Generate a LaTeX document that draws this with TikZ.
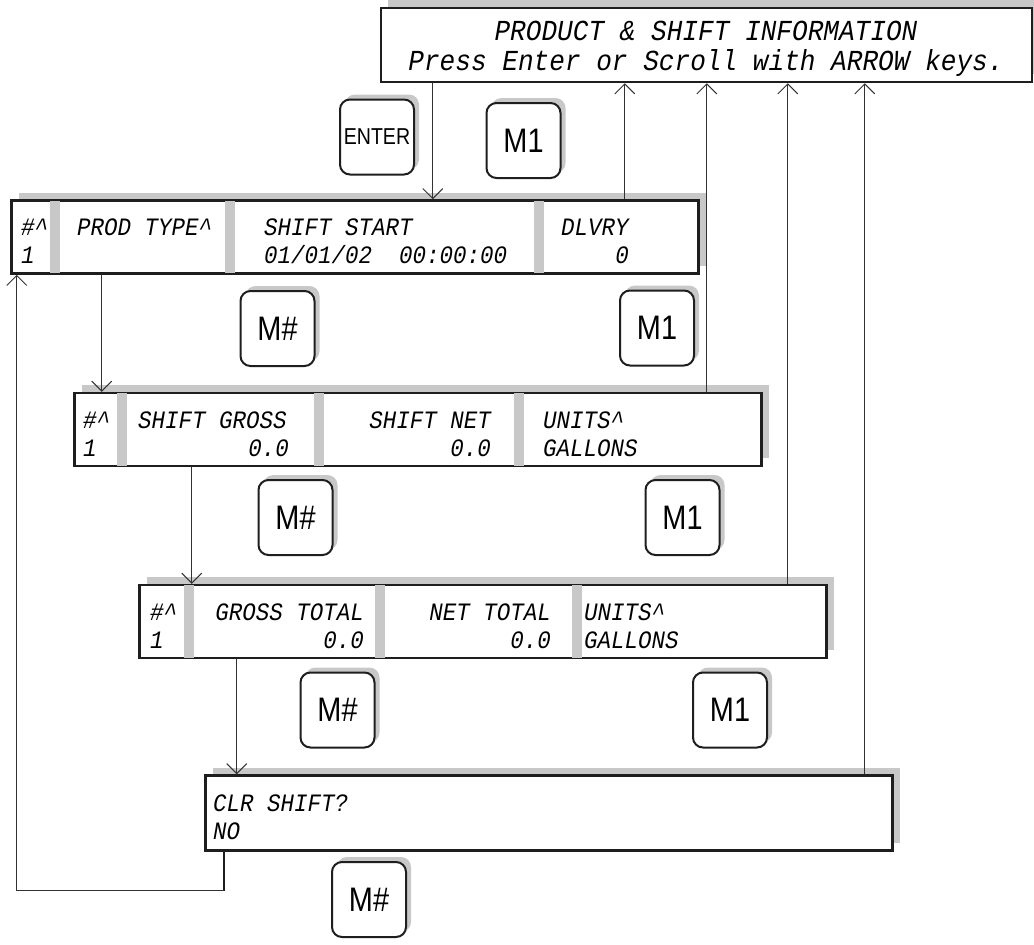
\documentclass[tikz,border=0pt]{standalone}
\usepackage{fontspec}
\usetikzlibrary{arrows.meta, shadows, calc}
\newfontfamily\lcdfont[FakeStretch=0.9]{Liberation Mono}
\newfontfamily\keyfont[FakeStretch=0.85]{Liberation Sans}
\definecolor{ShadeGray}{RGB}{200, 200, 200}
\definecolor{FrameDark}{RGB}{30, 30, 30}
\definecolor{LinkGray}{RGB}{50, 50, 50}

\begin{document}
\begin{tikzpicture}[
    x=1pt, y=-1pt,
    screen/.style={rectangle, draw=FrameDark, fill=white, line width=2.5pt, minimum width=687pt, minimum height=73pt, inner sep=0pt, general shadow={fill=ShadeGray, shadow xshift=7pt, shadow yshift=8pt}},
    key/.style={rectangle, draw=FrameDark, fill=white, line width=2pt, rounded corners=10pt, minimum width=74pt, minimum height=75pt, inner sep=0pt, font=\keyfont\fontsize{34}{34}\selectfont, general shadow={fill=ShadeGray, shadow xshift=5pt, shadow yshift=5pt}},
    lcd/.style={inner sep=0pt, anchor=base west, font=\lcdfont\itshape\fontsize{25}{25}\selectfont},
    lcdr/.style={lcd, anchor=base east},
    toplcd/.style={inner sep=0pt, anchor=base, font=\lcdfont\itshape\fontsize{29}{29}\selectfont},
    bar/.style={fill=ShadeGray},
    link/.style={draw=LinkGray, line width=1pt, -{Straight Barb[length=10pt, width=20pt]}}
]
    \useasboundingbox (0,0) rectangle (1034,945);

    % Screens
    \node[screen, minimum width=651pt, minimum height=74pt] (info) at (706.5,45) {};
    \node[screen] (prod) at (355,237) {};
    \node[screen] (gross) at (418,429.5) {};
    \node[screen] (total) at (483,621.5) {};
    \node[screen, minimum height=75pt] (clear) at (549,813) {};

    % Column separators
    \fill[bar] ([xshift=40pt, yshift=-1.5pt]prod.north west) rectangle ([xshift=50pt, yshift=1.5pt]prod.south west);
    \fill[bar] ([xshift=215pt, yshift=-1.5pt]prod.north west) rectangle ([xshift=225pt, yshift=1.5pt]prod.south west);
    \fill[bar] ([xshift=524pt, yshift=-1.5pt]prod.north west) rectangle ([xshift=534pt, yshift=1.5pt]prod.south west);
    \fill[bar] ([xshift=44pt, yshift=-1.5pt]gross.north west) rectangle ([xshift=54pt, yshift=1.5pt]gross.south west);
    \fill[bar] ([xshift=241pt, yshift=-1.5pt]gross.north west) rectangle ([xshift=251pt, yshift=1.5pt]gross.south west);
    \fill[bar] ([xshift=441pt, yshift=-1.5pt]gross.north west) rectangle ([xshift=451pt, yshift=1.5pt]gross.south west);
    \fill[bar] ([xshift=46pt, yshift=-1.5pt]total.north west) rectangle ([xshift=56pt, yshift=1.5pt]total.south west);
    \fill[bar] ([xshift=237pt, yshift=-1.5pt]total.north west) rectangle ([xshift=247pt, yshift=1.5pt]total.south west);
    \fill[bar] ([xshift=434pt, yshift=-1.5pt]total.north west) rectangle ([xshift=444pt, yshift=1.5pt]total.south west);

    % Screen texts
    \node[toplcd] (ititle) at (706,40) {PRODUCT \& SHIFT INFORMATION};
    \node[toplcd] (ihint) at (706,70) {Press Enter or Scroll with ARROW keys.};

    \node[lcd] (pnum) at (21,235) {\#\textasciicircum};
    \node[lcd] (pnumv) at (21,263) {1};
    \node[lcd] (ptype) at (77,235) {PROD TYPE\textasciicircum};
    \node[lcd] (pstart) at (264,235) {SHIFT START};
    \node[lcd] (pstartv) at (264,263) {01/01/02\ \ 00:00:00};
    \node[lcd] (pdlv) at (561,235) {DLVRY};
    \node[lcdr] (pdlvv) at (629,263) {0};

    \node[lcd] (gnum) at (83,428) {\#\textasciicircum};
    \node[lcd] (gnumv) at (83,456) {1};
    \node[lcd] (ggross) at (138,428) {SHIFT GROSS};
    \node[lcdr] (ggrossv) at (289,456) {0.0};
    \node[lcdr] (gnet) at (491,428) {SHIFT NET};
    \node[lcdr] (gnetv) at (491,456) {0.0};
    \node[lcd] (gunit) at (543,428) {UNITS\textasciicircum};
    \node[lcd] (gunitv) at (543,456) {GALLONS};

    \node[lcd] (tnum) at (150,620) {\#\textasciicircum};
    \node[lcd] (tnumv) at (150,648) {1};
    \node[lcdr] (tgross) at (364,620) {GROSS TOTAL};
    \node[lcdr] (tgrossv) at (364,648) {0.0};
    \node[lcdr] (tnet) at (551,620) {NET TOTAL};
    \node[lcdr] (tnetv) at (551,648) {0.0};
    \node[lcd] (tunit) at (584,620) {UNITS\textasciicircum};
    \node[lcd] (tunitv) at (584,648) {GALLONS};

    \node[lcd] (cclr) at (213,811) {CLR SHIFT?};
    \node[lcd] (cclrv) at (213,839) {NO};

    % Keys
    \node[key, font=\keyfont\fontsize{23}{23}\selectfont] (enter) at (377,137) {ENTER};
    \node[key] (mone) at (523.5,140.5) {M1};
    \node[key] (mnumA) at (277.5,328.5) {M\#};
    \node[key] (moneA) at (657,328) {M1};
    \node[key] (mnumB) at (295.5,517.5) {M\#};
    \node[key] (moneB) at (682.5,517.5) {M1};
    \node[key] (mnumC) at (337.5,710) {M\#};
    \node[key] (moneC) at (730,710) {M1};
    \node[key] (mnumD) at (369,899.5) {M\#};

    % Back to the information screen
    \draw[link] ([xshift=53pt]info.south west) coordinate (a0) -- (a0 |- prod.north);
    \draw[link] ([xshift=614.5pt]prod.north west) coordinate (a1) -- (a1 |- info.south);
    \draw[link] ([xshift=633.5pt]gross.north west) coordinate (a2) -- (a2 |- info.south);
    \draw[link] ([xshift=649.5pt]total.north west) coordinate (a3) -- (a3 |- info.south);
    \draw[link] ([xshift=660.5pt]clear.north west) coordinate (a4) -- (a4 |- info.south);

    % Down the screens
    \draw[link] ([xshift=91.5pt]prod.south west) coordinate (d1) -- (d1 |- gross.north);
    \draw[link] ([xshift=118.5pt]gross.south west) coordinate (d2) -- (d2 |- total.north);
    \draw[link] ([xshift=98.5pt]total.south west) coordinate (d3) -- (d3 |- clear.north);

    % Loop back to the first screen
    \draw[draw=FrameDark, line width=2pt] ([xshift=20pt]clear.south west) coordinate (r0) -- ++(0,39) coordinate (r1);
    \draw[link] (r1) -| ([xshift=6.5pt]prod.south west);

\end{tikzpicture}
\end{document}
